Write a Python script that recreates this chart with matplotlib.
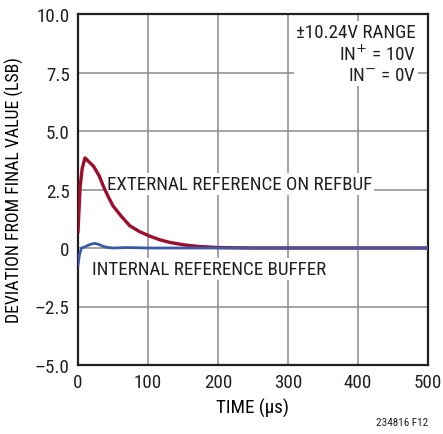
import numpy as np
import matplotlib.pyplot as plt
from matplotlib import font_manager

# settling of the ADC output after a step, in LSB
t_ext = [0, 3, 6, 10, 15, 22, 30, 36, 43, 50, 62, 74, 88, 103, 117, 131, 150, 170, 200, 250, 300, 350, 400, 450, 500]
dev_ext = [0.7, 2.6, 3.4, 3.85, 3.7, 3.5, 3.1, 2.66, 2.2, 1.8, 1.35, 0.95, 0.7, 0.5, 0.35, 0.24, 0.14, 0.07, 0.02, 0.0, 0.0, 0.0, 0.0, 0.0, 0.0]

t_int = [0, 2, 5, 10, 17, 24, 30, 36, 41, 50, 70, 100, 200, 300, 400, 500]
dev_int = [-0.75, -0.3, 0.0, 0.05, 0.15, 0.2, 0.15, 0.07, 0.03, 0.0, 0.02, 0.0, 0.0, 0.0, 0.0, 0.0]

xticks = [0, 100, 200, 300, 400, 500]
yticks = [-5.0, -2.5, 0, 2.5, 5.0, 7.5, 10.0]
ytick_labels = ['\u20135.0', '\u20132.5', '0', '2.5', '5.0', '7.5', '10.0']

# narrow sans if there is one, else plain DejaVu
names = {f.name for f in font_manager.fontManager.ttflist}
fam = 'DejaVu Sans'
for cand in ['Liberation Sans Narrow', 'Roboto Condensed', 'Archivo Narrow', 'PT Sans Narrow',
             'Arimo', 'Liberation Sans']:
    if cand in names:
        fam = cand
        break
plt.rcParams['font.family'] = [fam, 'DejaVu Sans']
plt.rcParams['text.color'] = '#231f20'
fs = 13.7

fig = plt.figure(figsize=(4.43, 4.35), dpi=100)
ax = fig.add_axes([78 / 443, 1 - 366 / 435, 350 / 443, 351 / 435])

ax.plot(t_ext, dev_ext, color='#9b0f2d', lw=2.4, zorder=3)
ax.plot(t_int, dev_int, color='#3a5ba9', lw=2.0, zorder=3)

ax.set_xlim(0, 500)
ax.set_ylim(-5, 10)
ax.set_xticks(xticks)
ax.set_yticks(yticks)
ax.set_yticklabels(ytick_labels)
ax.tick_params(length=0, labelsize=fs, pad=6, colors='#231f20')
ax.grid(True, color='#8c8c8c', lw=1.1)
ax.set_axisbelow(True)
for s in ax.spines.values():
    s.set_linewidth(1.6)
    s.set_color('#231f20')

ax.set_xlabel('TIME (\u00b5s)', fontsize=fs, labelpad=5)
ax.set_ylabel('DEVIATION FROM FINAL VALUE (LSB)', fontsize=12.8, labelpad=8)

box = dict(facecolor='white', edgecolor='none', pad=1.5)
ax.text(41, 2.75, 'EXTERNAL REFERENCE ON REFBUF', fontsize=fs, va='center', ha='left',
        bbox=box, zorder=2)
ax.text(20, -0.9, 'INTERNAL REFERENCE BUFFER', fontsize=fs, va='center', ha='left',
        bbox=box, zorder=2)
ax.text(483, 8.3, '\u00b110.24V RANGE\nIN$^{+}$ = 10V\nIN$^{-}$ = 0V', fontsize=fs,
        va='center', ha='right', linespacing=1.15, bbox=box, zorder=2)

fig.text(428 / 443, 1 - 423 / 435, '234816 F12', fontsize=8, ha='right', va='center')

fig.savefig('out.png', dpi=100)
